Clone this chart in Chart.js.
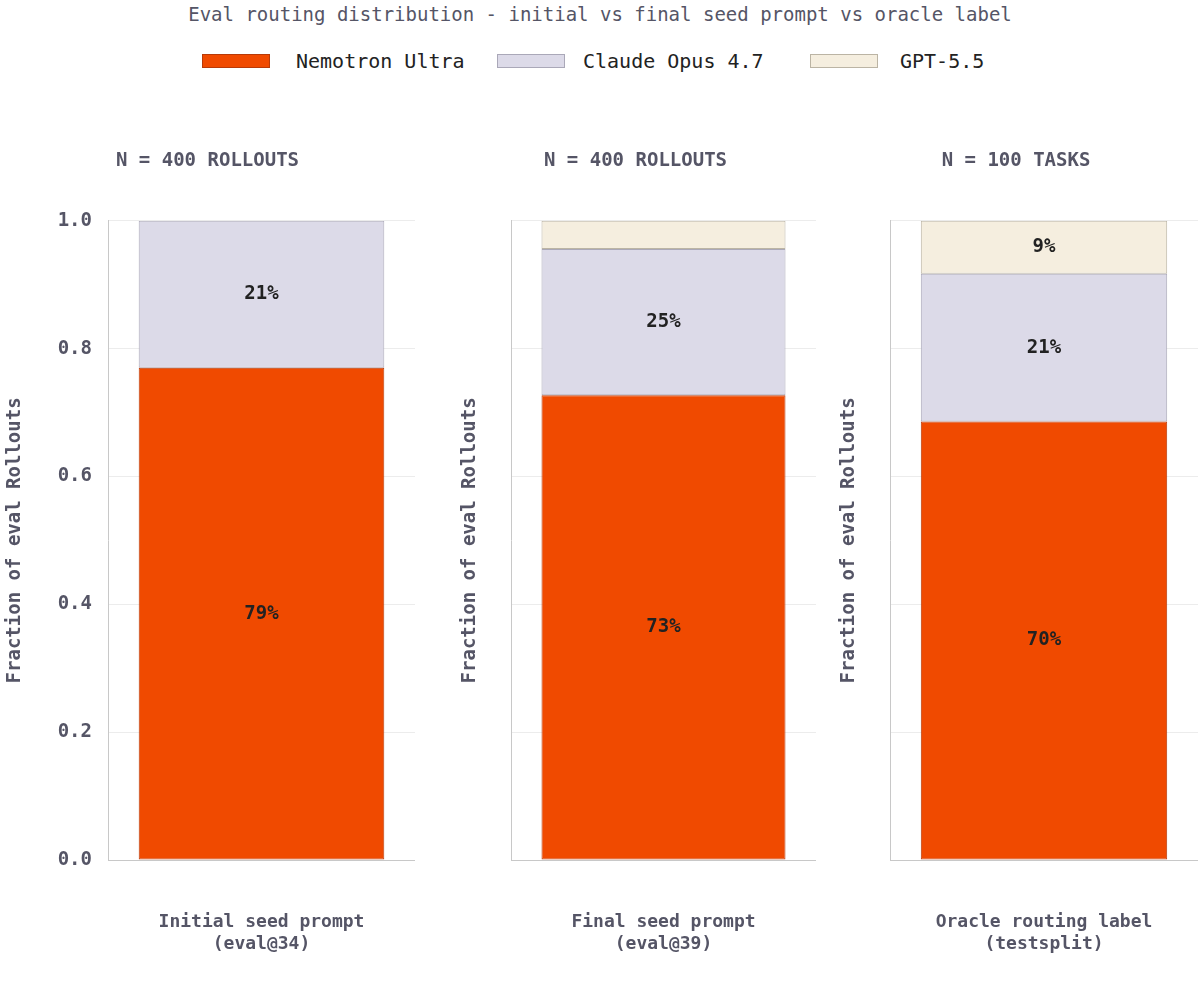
<!DOCTYPE html>
<html>
<head>
<meta charset="utf-8">
<script src="https://cdn.jsdelivr.net/npm/chart.js@4"></script>
<style>
  body { margin: 0; width: 1200px; height: 993px; background: #fff; position: relative; overflow: hidden;
         font-family: "DejaVu Sans Mono", monospace; color: #4a4a5a; }
  #title { position: absolute; top: 3px; left: 0; width: 1200px; text-align: center; font-size: 19px; color: #555566; }
  .leg { position: absolute; top: 49px; font-size: 20px; color: #222; display: flex; align-items: center; }
  .sw { display: inline-block; width: 68px; height: 14px; margin-right: 26px; box-sizing: border-box; }
  .box { position: absolute; top: 140px; height: 853px; }
</style>
</head>
<body>
<div id="title">Eval routing distribution - initial vs final seed prompt vs oracle label</div>
<div class="leg" style="left:202px"><span class="sw" style="background:#f04a00;border:1px solid #b83a08"></span>Nemotron Ultra</div>
<div class="leg" style="left:497px"><span class="sw" style="background:#dcdae8;border:1px solid #aaa8b8;margin-right:18px"></span>Claude Opus 4.7</div>
<div class="leg" style="left:810px"><span class="sw" style="background:#f5eedf;border:1px solid #bbb4a4;margin-right:22px"></span>GPT-5.5</div>

<div class="box" style="left:0;width:415px"><canvas id="c0"></canvas></div>
<div class="box" style="left:455px;width:361px"><canvas id="c1"></canvas></div>
<div class="box" style="left:834px;width:364px"><canvas id="c2"></canvas></div>

<script>
const models = ["Nemotron Ultra", "Claude Opus 4.7", "GPT-5.5"];
const panelTitles = ["N = 400 ROLLOUTS", "N = 400 ROLLOUTS", "N = 100 TASKS"];
const panelLabels = [["Initial seed prompt", "(eval@34)"], ["Final seed prompt", "(eval@39)"], ["Oracle routing label", "(testsplit)"]];
const nemotron = [0.77, 0.727, 0.686];
const claude = [0.23, 0.229, 0.231];
const gpt = [0.0, 0.044, 0.083];
const nemotronText = ["79%", "73%", "70%"];
const claudeText = ["21%", "25%", "21%"];
const gptText = ["", "", "9%"];
const yTicks = [0, 0.2, 0.4, 0.6, 0.8, 1.0];

const fills = ["#f04a00", "#dcdae8", "#f5eedf"];
const borders = ["#b83a08", "#aaa8b8", "#bbb4a4"];
const mono = "'DejaVu Sans Mono', monospace";
const grey = "#555566";

const barText = {
  id: "barText",
  afterDatasetsDraw(chart) {
    const c = chart.ctx;
    c.save();
    c.font = "bold 19px " + mono;
    c.fillStyle = "#222";
    c.textAlign = "center";
    c.textBaseline = "middle";
    chart.data.datasets.forEach((ds, i) => {
      chart.getDatasetMeta(i).data.forEach((bar) => {
        const t = ds.texts[0];
        if (!t) return;
        c.fillText(t, bar.x, (bar.y + bar.base) / 2);
      });
    });
    c.restore();
  }
};

[0, 1, 2].forEach((p) => {
  const series = [nemotron, claude, gpt];
  const texts = [nemotronText, claudeText, gptText];
  new Chart(document.getElementById("c" + p), {
    type: "bar",
    data: {
      labels: [panelLabels[p]],
      datasets: models.map((m, i) => ({
        label: m,
        data: [series[i][p]],
        texts: [texts[i][p]],
        backgroundColor: fills[i],
        borderColor: borders[i],
        borderWidth: 1,
        borderSkipped: false,
        categoryPercentage: 0.8,
        barPercentage: 1.0
      }))
    },
    options: {
      responsive: true,
      maintainAspectRatio: false,
      animation: false,
      layout: { padding: { right: 0 } },
      plugins: {
        legend: { display: false },
        tooltip: { enabled: false },
        title: {
          display: true, text: panelTitles[p], color: grey,
          font: { family: mono, size: 19, weight: "bold" },
          padding: { top: 10, bottom: 48 }
        }
      },
      scales: {
        x: {
          stacked: true,
          grid: { display: false },
          border: { color: "#c8c8c8" },
          ticks: { color: grey, font: { family: mono, size: 18, weight: "bold" }, padding: 44, maxRotation: 0 },
          afterFit(s) { s.height = 133; }
        },
        y: {
          stacked: true, min: 0, max: 1,
          afterBuildTicks(s) { s.ticks = yTicks.map((v) => ({ value: v })); },
          afterFit(s) { s.width = p === 0 ? 108 : 56; },
          grid: { color: "#ececec", drawTicks: false },
          border: { color: "#c8c8c8" },
          title: {
            display: true, text: "Fraction of eval Rollouts", color: grey,
            font: { family: mono, size: 19, weight: "bold" }, padding: { bottom: 0 }
          },
          ticks: {
            display: p === 0, color: grey, padding: 16,
            font: { family: mono, size: 19, weight: "bold" },
            callback: (v) => v.toFixed(1)
          }
        }
      }
    },
    plugins: [barText]
  });
});
</script>
</body>
</html>
